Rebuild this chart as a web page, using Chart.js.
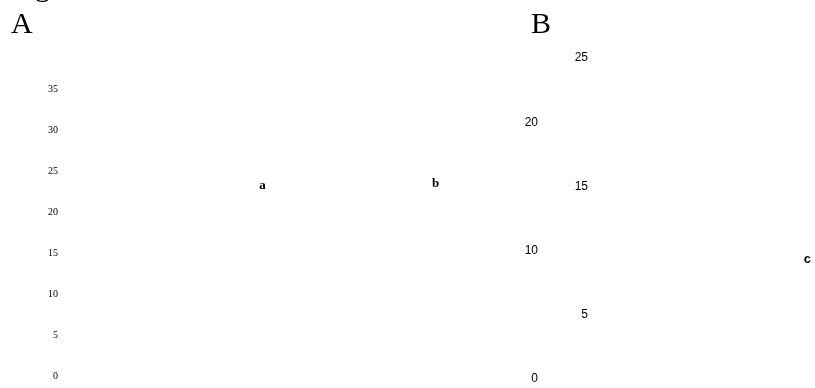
<!DOCTYPE html>
<html>
<head>
<meta charset="utf-8">
<script src="https://cdn.jsdelivr.net/npm/chart.js@4.4.1/dist/chart.umd.min.js"></script>
<style>
  html, body { margin: 0; padding: 0; background: #fff; width: 815px; height: 388px; overflow: hidden; }
  canvas { position: absolute; top: 0; }
  #painelA { left: 0; }
  #painelB { left: 470px; }
</style>
</head>
<body>
<canvas id="painelA" width="530" height="388"></canvas>
<canvas id="painelB" width="420" height="388"></canvas>
<script>
// Painel A
const categoriasA = ['1', '2'];
const valoresA = [22.5, 22.7];
const letrasA = ['a', 'b'];
const ticksA = [0, 5, 10, 15, 20, 25, 30, 35];

// Painel B (os rótulos do eixo y alternam em duas colunas)
const categoriasB = ['1', '2'];
const valoresB = [20, 8.8];
const letrasB = ['', 'c'];
const ticksBInternos = [5, 15, 25];
const ticksBExternos = [0, 10, 20];

const serif = "'Times New Roman', 'Liberation Serif', serif";
const sans = "Arial, 'Liberation Sans', sans-serif";

// letras de significância em cima de cada barra
function pluginLetras(letras, fonte) {
  return {
    id: 'letras',
    afterDatasetsDraw(chart) {
      const ctx = chart.ctx;
      ctx.save();
      ctx.font = fonte;
      ctx.fillStyle = '#000';
      ctx.textAlign = 'center';
      ctx.textBaseline = 'alphabetic';
      chart.getDatasetMeta(0).data.forEach((barra, i) => {
        if (letras[i]) ctx.fillText(letras[i], barra.x, barra.y - 3);
      });
      ctx.restore();
    }
  };
}

// texto do painel (A, B e o "Figure" cortado no topo)
function pluginTexto(textos) {
  return {
    id: 'textoPainel',
    afterDraw(chart) {
      const ctx = chart.ctx;
      ctx.save();
      ctx.fillStyle = '#000';
      ctx.textAlign = 'left';
      ctx.textBaseline = 'alphabetic';
      textos.forEach(t => {
        ctx.font = t.font;
        ctx.fillText(t.text, t.x, t.y);
      });
      ctx.restore();
    }
  };
}

// largura fixa do eixo e sem a folga vertical que o padding dos ticks cria
function ajustaEixo(largura, folga) {
  return eixo => {
    eixo.width = largura;
    eixo.paddingTop = folga;
    eixo.paddingBottom = folga;
  };
}

const semGrade = { display: false, drawTicks: false };
const semBorda = { display: false };

new Chart(document.getElementById('painelA'), {
  type: 'bar',
  data: {
    labels: categoriasA,
    datasets: [{
      data: valoresA,
      backgroundColor: 'rgba(0,0,0,0)',
      borderWidth: 0
    }]
  },
  options: {
    responsive: false,
    animation: false,
    layout: { padding: { left: 48, top: 89, right: 8, bottom: 12 } },
    plugins: { legend: { display: false }, tooltip: { enabled: false } },
    scales: {
      x: { display: false },
      y: {
        min: 0,
        max: 35,
        afterBuildTicks: eixo => { eixo.ticks = ticksA.map(v => ({ value: v })); },
        afterFit: ajustaEixo(128, 5),
        ticks: { color: '#000', font: { family: serif, size: 10 }, padding: 118 },
        grid: semGrade,
        border: semBorda
      }
    }
  },
  plugins: [
    pluginLetras(letrasA, 'bold 13px ' + serif),
    pluginTexto([
      { text: 'Figure', x: 10, y: -4, font: '30px ' + serif },
      { text: 'A', x: 11, y: 33, font: '30px ' + serif }
    ])
  ]
});

new Chart(document.getElementById('painelB'), {
  type: 'bar',
  data: {
    labels: categoriasB,
    datasets: [{
      data: valoresB,
      backgroundColor: 'rgba(0,0,0,0)',
      borderWidth: 0
    }]
  },
  options: {
    responsive: false,
    animation: false,
    layout: { padding: { left: 55, top: 58, right: 11, bottom: 9 } },
    plugins: { legend: { display: false }, tooltip: { enabled: false } },
    scales: {
      x: { display: false },
      y: {
        position: 'left',
        weight: 0,
        min: 0,
        max: 25,
        afterBuildTicks: eixo => { eixo.ticks = ticksBInternos.map(v => ({ value: v })); },
        afterFit: ajustaEixo(17, 6),
        ticks: { color: '#000', font: { family: sans, size: 12 }, padding: 4 },
        grid: semGrade,
        border: semBorda
      },
      y2: {
        position: 'left',
        weight: 1,
        min: 0,
        max: 25,
        afterBuildTicks: eixo => { eixo.ticks = ticksBExternos.map(v => ({ value: v })); },
        afterFit: ajustaEixo(50, 6),
        ticks: { color: '#000', font: { family: sans, size: 12 }, padding: 37 },
        grid: semGrade,
        border: semBorda
      }
    }
  },
  plugins: [
    pluginLetras(letrasB, 'bold 13px ' + sans),
    pluginTexto([
      { text: 'B', x: 61, y: 33, font: '30px ' + serif }
    ])
  ]
});
</script>
</body>
</html>
